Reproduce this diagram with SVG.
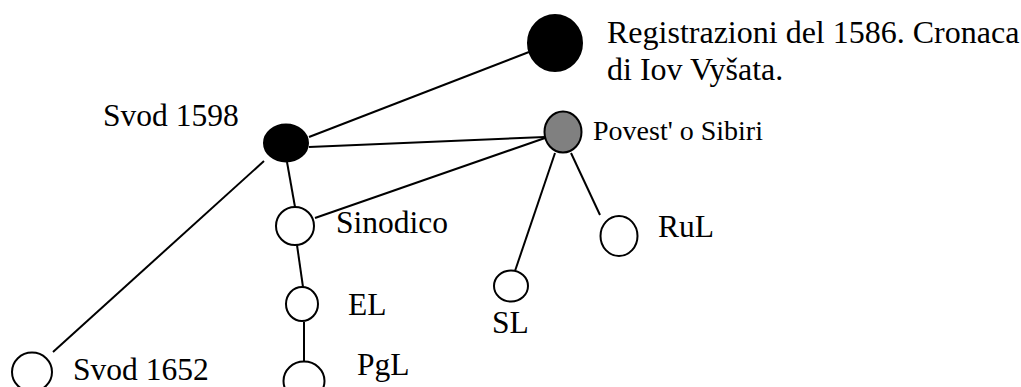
<svg xmlns="http://www.w3.org/2000/svg" width="1021" height="387" viewBox="0 0 1021 387">
  <style>
    text { font-family: "Liberation Serif", "Times New Roman", serif; font-size: 31.5px; fill: #000; }
    .title { font-size: 32px; }
    .small { font-size: 28px; }
    .node { stroke: #000; stroke-width: 2; }
    .open { fill: #fff; }
    .solid { fill: #000; }
    .grey { fill: #808080; }
    #connectors line { stroke: #000; stroke-width: 2; }
  </style>
  <rect width="1021" height="387" fill="#fff"/>

  <g id="connectors">
    <line x1="309" y1="137" x2="529" y2="52"/>
    <line x1="309" y1="147" x2="545" y2="137"/>
    <line x1="315" y1="218" x2="545" y2="138"/>
    <line x1="287" y1="162" x2="295" y2="207"/>
    <line x1="264" y1="161" x2="53" y2="352"/>
    <line x1="297" y1="245" x2="303" y2="287"/>
    <line x1="304" y1="322" x2="304" y2="361"/>
    <line x1="555" y1="153" x2="515" y2="271"/>
    <line x1="571" y1="153" x2="600" y2="215"/>
  </g>

  <g id="registrazioni">
    <ellipse class="node solid" cx="555" cy="43" rx="27" ry="28"/>
    <text class="title" x="607" y="43">Registrazioni del 1586. Cronaca</text>
    <text class="title" x="607" y="80">di Iov Vyšata.</text>
  </g>

  <g id="svod1598">
    <ellipse class="node solid" cx="286" cy="143" rx="22" ry="18.5"/>
    <text x="103" y="126">Svod 1598</text>
  </g>

  <g id="povest">
    <ellipse class="node grey" cx="563" cy="132" rx="18.5" ry="20.5"/>
    <text class="small" x="593" y="140">Povest' o Sibiri</text>
  </g>

  <g id="sinodico">
    <ellipse class="node open" cx="295" cy="226" rx="19" ry="19"/>
    <text x="336" y="233">Sinodico</text>
  </g>

  <g id="el">
    <ellipse class="node open" cx="302" cy="304" rx="16" ry="17"/>
    <text x="348" y="315">EL</text>
  </g>

  <g id="pgl">
    <ellipse class="node open" cx="304" cy="381" rx="20.5" ry="19.5"/>
    <text x="357" y="375">PgL</text>
  </g>

  <g id="svod1652">
    <ellipse class="node open" cx="32" cy="372" rx="20" ry="19.5"/>
    <text x="73" y="380">Svod 1652</text>
  </g>

  <g id="sl">
    <ellipse class="node open" cx="511" cy="286" rx="17" ry="15.5"/>
    <text x="492" y="333">SL</text>
  </g>

  <g id="rul">
    <ellipse class="node open" cx="619" cy="236" rx="18.5" ry="20"/>
    <text x="658" y="237">RuL</text>
  </g>
</svg>
